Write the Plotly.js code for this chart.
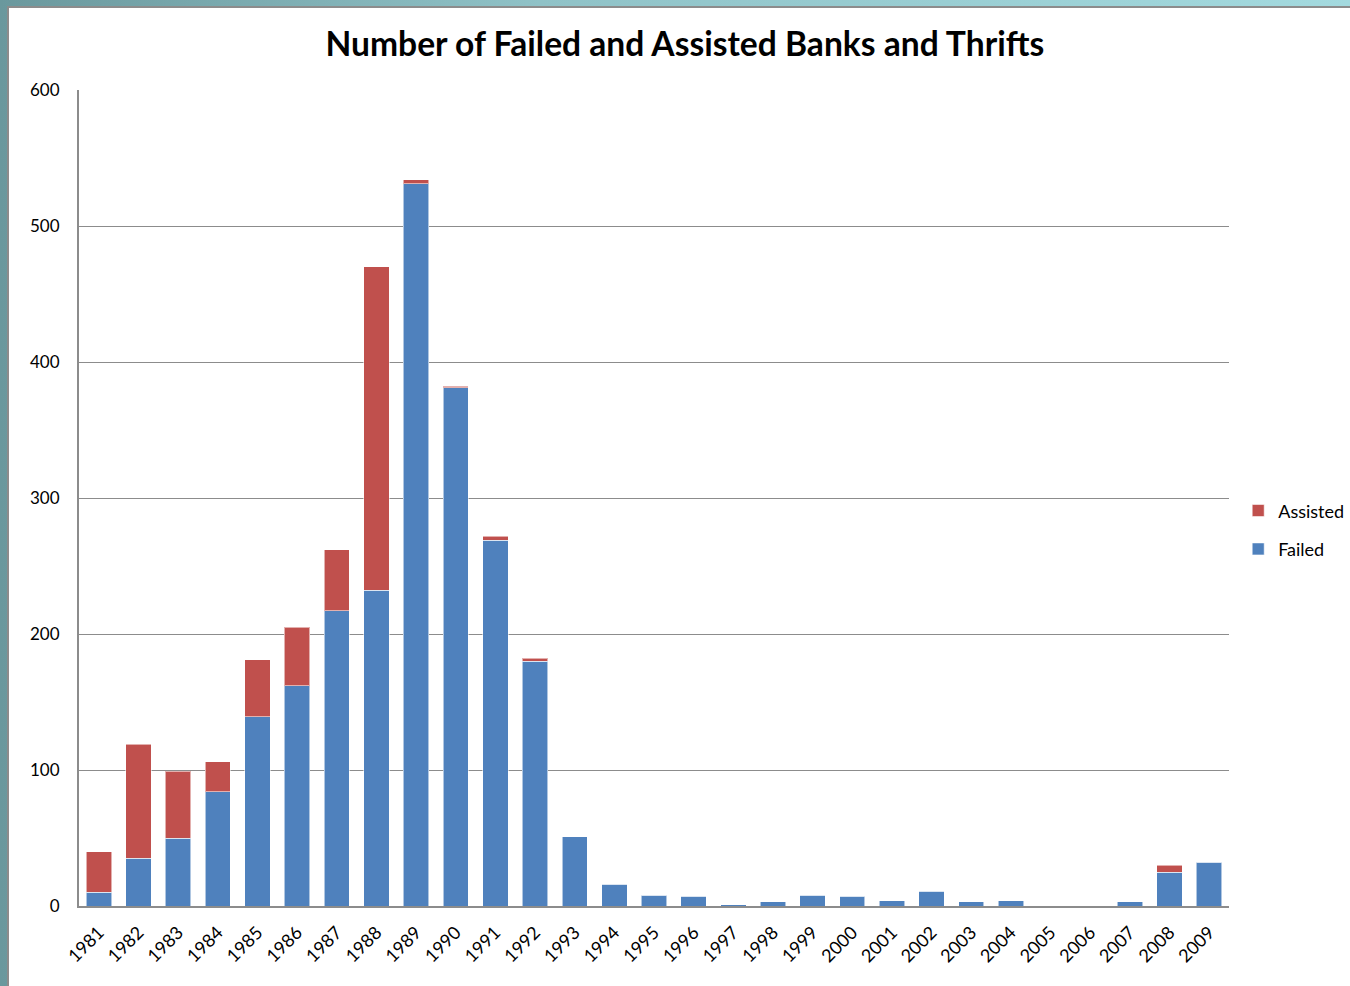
<!DOCTYPE html>
<html>
<head>
<meta charset="utf-8">
<script src="https://cdn.plot.ly/plotly-3.0.1.min.js"></script>
<style>
html, body { margin:0; padding:0; width:1350px; height:986px; overflow:hidden;
  background: linear-gradient(to right, #6a989d, #8fc2c7 40%, #a3dadf); }
#frame { position:absolute; left:7px; top:6px; width:1343px; height:980px;
  border-left:2px solid #8c8c8c; border-top:2px solid #8c8c8c; background:#fff; }
#chart { position:absolute; left:0; top:0; width:1341px; height:978px; }
</style>
</head>
<body>
<div id="frame"><div id="chart"></div></div>
<script>
const years = ["1981","1982","1983","1984","1985","1986","1987","1988","1989","1990",
  "1991","1992","1993","1994","1995","1996","1997","1998","1999","2000",
  "2001","2002","2003","2004","2005","2006","2007","2008","2009"];
const failed = [10,35,50,84,139,162,217,232,531,381,
  269,180,51,16,8,7,1,3,8,7,
  4,11,3,4,0,0,3,25,32];
const assisted = [30,84,49,22,42,43,45,238,3,1,
  3,2,0,0,0,0,0,0,0,0,
  0,0,0,0,0,0,0,5,0];
const yTicks = [0,100,200,300,400,500,600];

const font = "Lato, 'Open Sans', sans-serif";
const edge = {color:"rgba(255,255,255,0.55)", width:1};

const traces = [
  {type:"bar", name:"Failed", x:years, y:failed, legendgroup:"f", legendrank:2,
   marker:{color:"#4F81BD", line:edge}},
  {type:"bar", name:"Assisted", x:years, y:assisted, legendgroup:"a", legendrank:1,
   marker:{color:"#C0504D", line:edge}}
];

const layout = {
  width:1341, height:978,
  margin:{l:70, r:121, t:82, b:80, autoexpand:false},
  paper_bgcolor:"#fff", plot_bgcolor:"#fff",
  barmode:"stack", bargap:0.36,
  font:{family:font, size:17, color:"#000"},
  title:{text:"<b>Number of Failed and Assisted Banks and Thrifts</b>",
    font:{family:font, size:33.6, color:"#000"},
    xref:"container", yref:"container", x:0.504, xanchor:"center",
    y:0.963, yanchor:"middle"},
  xaxis:{type:"category", tickangle:-45, showgrid:false,
    showline:true, linecolor:"#8c8c8c", linewidth:2,
    ticks:"", ticklabelstandoff:7, tickfont:{size:18}},
  yaxis:{range:[0,600], tickvals:yTicks, showgrid:true, gridcolor:"#8c8c8c", gridwidth:1,
    showline:true, linecolor:"#8c8c8c", linewidth:2, zeroline:false,
    ticks:"", ticklabelstandoff:14, tickfont:{size:17}},
  showlegend:true,
  legend:{traceorder:"grouped", x:1.008, xanchor:"left", y:0.461, yanchor:"middle",
    font:{size:18}, itemwidth:30, tracegroupgap:12, bgcolor:"rgba(0,0,0,0)"}
};

Plotly.newPlot("chart", traces, layout, {displayModeBar:false, staticPlot:true});
</script>
</body>
</html>
